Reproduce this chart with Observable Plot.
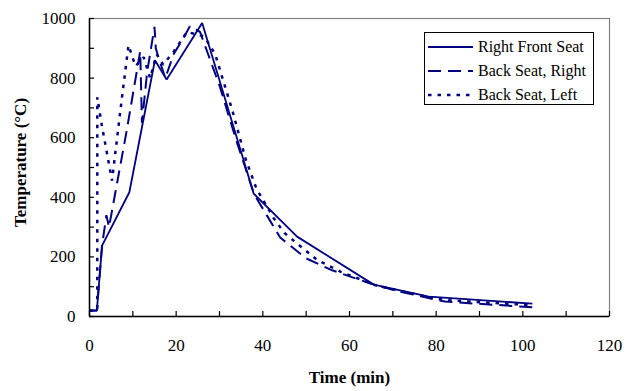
<!DOCTYPE html>
<html>
<head>
<meta charset="utf-8">
<script src="https://cdn.jsdelivr.net/npm/d3@7"></script>
<script src="https://cdn.jsdelivr.net/npm/@observablehq/plot@0.6"></script>
<style>
  html, body { margin: 0; padding: 0; background: #fff; }
  #chart { width: 627px; height: 391px; }
</style>
</head>
<body>
<div id="chart"></div>
<script>
// ---- Data ----
const seriesNames = ["Right Front Seat", "Back Seat, Right", "Back Seat, Left"];

const frontTime = [0, 1.7, 2.9, 9.2, 15.1, 17.8, 26.0, 37.9, 47.9, 65.6, 78.3, 102.2];
const frontTemp = [20, 20, 238, 417, 860, 795, 985, 412, 268, 107, 67, 43];

const backRightTime = [0, 1.7, 2.9, 3.9, 4.5, 8.6, 11.7, 12.1, 13.3, 15.0, 15.3, 15.9, 17.5, 19.4, 22.1, 23.2, 25.5, 30, 34, 38, 44, 50, 56, 65, 72, 82, 102.2];
const backRightTemp = [20, 20, 238, 340, 300, 625, 890, 650, 820, 972, 900, 870, 800, 880, 945, 975, 955, 775, 585, 410, 265, 195, 155, 110, 82, 50, 31];

const backLeftTime = [0, 1.8, 1.8, 2.8, 5.2, 6.3, 7.5, 9.0, 10.6, 12.5, 14.0, 15.5, 17.0, 19.5, 22.5, 26.5, 29.0, 33.0, 36.0, 38.5, 42.5, 45.0, 52.5, 58, 66, 75, 82, 102.2];
const backLeftTemp = [20, 20, 736, 645, 456, 590, 736, 910, 840, 870, 800, 880, 845, 890, 955, 940, 880, 690, 530, 430, 330, 280, 190, 150, 105, 75, 55, 38];

const xMinorTicks = d3.range(0, 121, 10);
const xLabelTicks = d3.range(0, 121, 20);
const yMinorTicks = d3.range(0, 1001, 100);
const yLabelTicks = d3.range(0, 1001, 200);

const xTitle = "Time (min)";
const yTitle = "Temperature (°C)";

// ---- Build table ----
const seriesDefs = [
  {name: seriesNames[0], t: frontTime, v: frontTemp, dash: null, width: 1.8},
  {name: seriesNames[1], t: backRightTime, v: backRightTemp, dash: "13,7", width: 2},
  {name: seriesNames[2], t: backLeftTime, v: backLeftTemp, dash: "3.5,6", width: 2.5}
];
const lineColor = "#000080";
const font = "'Liberation Serif', 'Times New Roman', serif";

const lineMarks = seriesDefs.map(s =>
  Plot.line(s.t.map((t, i) => ({t, v: s.v[i]})), {
    x: "t", y: "v",
    stroke: lineColor,
    strokeWidth: s.width,
    strokeDasharray: s.dash,
    strokeLinejoin: "miter",
    strokeLinecap: "butt"
  })
);

const chart = Plot.plot({
  width: 627,
  height: 391,
  marginLeft: 89,
  marginRight: 18,
  marginTop: 18,
  marginBottom: 75,
  style: {fontFamily: font, background: "#fff", color: "#000"},
  x: {domain: [0, 120]},
  y: {domain: [0, 1000]},
  marks: [
    Plot.frame({stroke: "#808080", strokeWidth: 1.2}),
    ...lineMarks,
    Plot.ruleY([0], {stroke: "#000", strokeWidth: 1.5}),
    Plot.ruleX([0], {stroke: "#000", strokeWidth: 1.5}),
    Plot.axisX({ticks: xMinorTicks, tickSize: -5, tickFormat: () => "", label: null, stroke: "#000", strokeWidth: 1.2}),
    Plot.axisX({ticks: xLabelTicks, tickSize: 0, tickPadding: 22, tickFormat: d => String(d), label: null, fontSize: 17, fill: "#000"}),
    Plot.axisY({ticks: yMinorTicks, tickSize: -5, tickFormat: () => "", label: null, stroke: "#000", strokeWidth: 1.2}),
    Plot.axisY({ticks: yLabelTicks, tickSize: 0, tickPadding: 14, tickFormat: d => String(d), label: null, fontSize: 17, fill: "#000"}),
    Plot.text([xTitle], {frameAnchor: "bottom", dy: 61, textAnchor: "middle", lineAnchor: "middle", fontWeight: "bold", fontSize: 17, fill: "#000"}),
    Plot.text([yTitle], {frameAnchor: "left", dx: -69, dy: -5, rotate: -90, textAnchor: "middle", lineAnchor: "middle", fontWeight: "bold", fontSize: 17, fill: "#000"})
  ]
});

document.getElementById("chart").appendChild(chart);

// ---- Legend (inside plot area, top-right) ----
const svg = d3.select(chart);
const lg = svg.append("g")
  .attr("font-family", font)
  .attr("font-size", 16)
  .attr("text-anchor", "start");
lg.append("rect")
  .attr("x", 424.5).attr("y", 32.5).attr("width", 169).attr("height", 72)
  .attr("fill", "#fff").attr("stroke", "#000").attr("stroke-width", 1);
seriesDefs.forEach((s, i) => {
  const y = 47 + i * 24;
  lg.append("line")
    .attr("x1", 428).attr("x2", 473).attr("y1", y).attr("y2", y)
    .attr("stroke", lineColor).attr("stroke-width", s.width)
    .attr("stroke-dasharray", s.dash);
  lg.append("text")
    .attr("x", 478).attr("y", y).attr("dy", "0.33em")
    .attr("text-anchor", "start")
    .attr("fill", "#000")
    .text(s.name);
});
</script>
</body>
</html>
